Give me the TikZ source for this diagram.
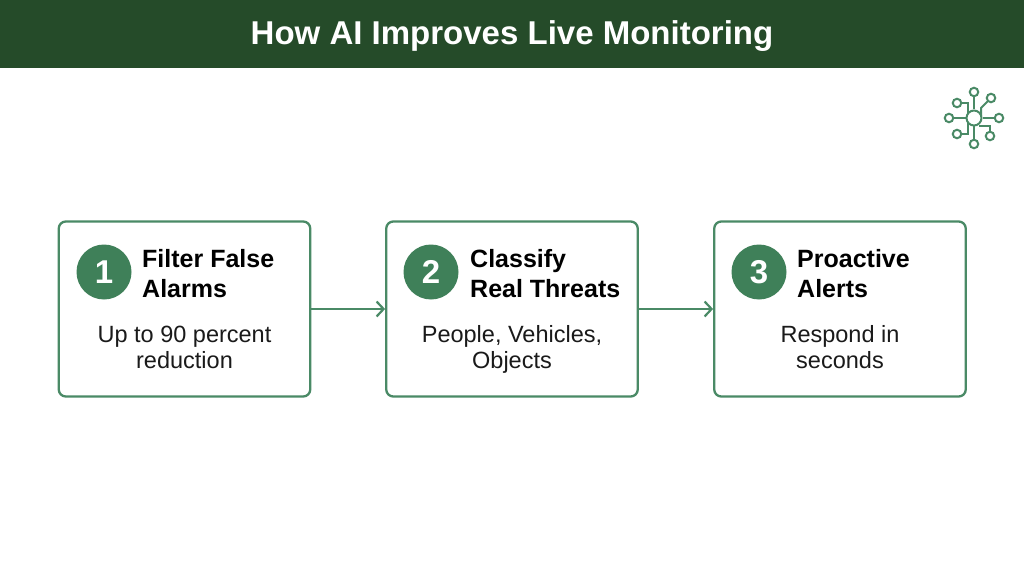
\documentclass[tikz,border=0pt]{standalone}
\usepackage{fontspec}
\setmainfont{Liberation Sans}
\usetikzlibrary{arrows.meta}
\definecolor{barGreen}{HTML}{254B29}
\definecolor{stepGreen}{HTML}{3F8059}
\definecolor{lineGreen}{HTML}{4A8A66}
\definecolor{inkBlack}{HTML}{1A1A1A}
\tikzset{
  stepbox/.style={draw=lineGreen, line width=2.3pt, rounded corners=7pt, fill=white,
    minimum width=251.5pt, minimum height=175pt, inner sep=0pt},
  badge/.style={circle, fill=stepGreen, text=white, minimum size=55pt, inner sep=0pt,
    font=\fontsize{33}{33}\selectfont\bfseries},
  heading/.style={anchor=west, align=left, inner sep=0pt, text=black,
    font=\fontsize{25}{30}\selectfont\bfseries},
  bodytext/.style={align=center, inner sep=0pt, text=inkBlack,
    font=\fontsize{23.5}{26.5}\selectfont},
  flow/.style={draw=lineGreen, line width=2.5pt, -{Straight Barb[length=7pt,width=15pt,line width=2.2pt]}},
  wire/.style={draw=lineGreen, line width=2pt},
  pin/.style={circle, draw=lineGreen, line width=2pt, fill=white, minimum size=8.5pt, inner sep=0pt},
  hubpin/.style={circle, draw=lineGreen, line width=2pt, fill=white, minimum size=15pt, inner sep=0pt}
}
\begin{document}
\begin{tikzpicture}[x=1pt,y=-1pt]
\useasboundingbox (0,0) rectangle (1024,572);

\fill[barGreen] (0,0) rectangle (1024,68);
\node[text=white, inner sep=0pt, font=\fontsize{33}{33}\selectfont\bfseries] (title) at (512,36.5) {How AI Improves Live Monitoring};

% boxes
\node[stepbox] (box1) at (184.5,309) {};
\node[stepbox] (box2) at (512,309) {};
\node[stepbox] (box3) at (840,309) {};

\draw[flow] (box1) -- (box2);
\draw[flow] (box2) -- (box3);

\node[badge] (num1) at (104,272) {1};
\node[badge] (num2) at (431,272) {2};
\node[badge] (num3) at (759,272) {3};

\node[heading] (head1) at (142,274) {Filter False\\Alarms};
\node[heading] (head2) at (470,274) {Classify\\Real Threats};
\node[heading] (head3) at (797,274) {Proactive\\Alerts};

\node[bodytext] (text1) at (184.5,350) {\strut Up to 90 percent\\\strut reduction};
\node[bodytext] (text2) at (512,350) {\strut People, Vehicles,\\\strut Objects};
\node[bodytext] (text3) at (840,350) {\strut Respond in\\\strut seconds};

% icon
\coordinate (hubTL) at (968,114);
\coordinate (hubBL) at (968,123);
\coordinate (hubBR) at (979,126);
\coordinate (bendTR) at (981,108);
\coordinate (hubTR) at (981,116);

\node[hubpin] (hub) at (974,118) {};
\node[pin] (pinT) at (974,92) {};
\node[pin] (pinTR) at (991,98) {};
\node[pin] (pinR) at (999,118) {};
\node[pin] (pinBR) at (990,136) {};
\node[pin] (pinB) at (974,144) {};
\node[pin] (pinBL) at (957,134) {};
\node[pin] (pinL) at (949,118) {};
\node[pin] (pinTL) at (957,103) {};

\draw[wire] (pinT) -- (hub);
\draw[wire] (pinR) -- (hub);
\draw[wire] (pinB) -- (hub);
\draw[wire] (pinL) -- (hub);
\draw[wire] (pinTL) -| (hubTL);
\draw[wire] (pinBL) -| (hubBL);
\draw[wire] (pinBR) |- (hubBR);
\draw[wire] (pinTR) -- (bendTR) -- (hubTR);
\end{tikzpicture}
\end{document}
